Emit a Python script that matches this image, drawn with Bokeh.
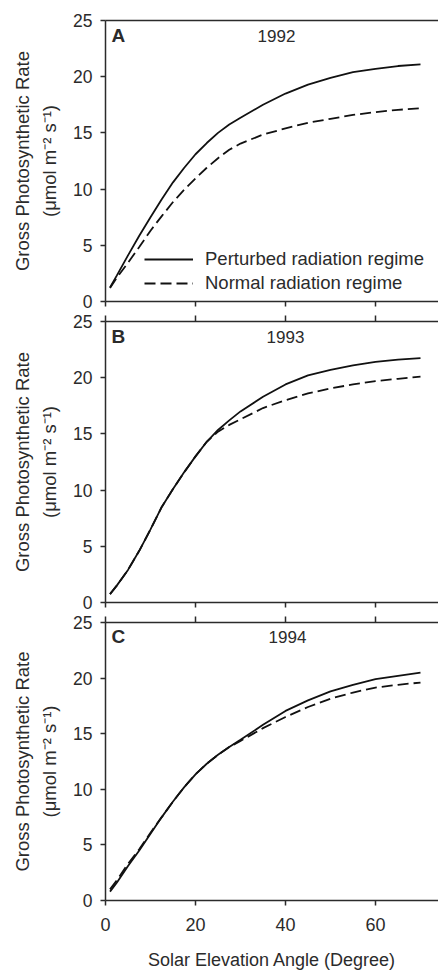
from bokeh.plotting import figure
from bokeh.models import (LinearAxis, Range1d, Label, Legend, LegendItem, FixedTicker,
                          CustomJSTickFormatter)
from bokeh.layouts import column
from bokeh.embed import file_html
from bokeh.resources import INLINE

# ---- data ----
angle = [1, 2.5, 5, 7.5, 10, 12.5, 15, 17.5, 20, 22.5, 25, 27.5, 30,
         35, 40, 45, 50, 55, 60, 65, 70]

a_perturbed = [1.25, 2.3, 4.1, 5.85, 7.5, 9.1, 10.6, 11.9, 13.1, 14.1, 15.0, 15.75, 16.35,
               17.5, 18.5, 19.3, 19.9, 20.4, 20.7, 20.95, 21.1]
a_normal = [1.2, 2.1, 3.45, 4.85, 6.3, 7.6, 8.85, 9.95, 10.95, 11.9, 12.75, 13.5, 14.05,
            14.85, 15.4, 15.9, 16.25, 16.6, 16.85, 17.05, 17.2]

b_perturbed = [0.75, 1.5, 2.9, 4.6, 6.5, 8.5, 10.1, 11.6, 13.0, 14.3, 15.35, 16.2, 17.0,
               18.3, 19.4, 20.2, 20.7, 21.1, 21.4, 21.6, 21.75]
b_normal = [0.75, 1.5, 2.9, 4.6, 6.5, 8.5, 10.1, 11.6, 13.0, 14.3, 15.2, 15.8, 16.3,
            17.3, 18.0, 18.6, 19.05, 19.4, 19.7, 19.9, 20.1]

c_perturbed = [0.8, 1.6, 3.1, 4.5, 6.0, 7.5, 8.9, 10.2, 11.35, 12.3, 13.1, 13.8, 14.45,
               15.8, 17.05, 18.0, 18.8, 19.4, 19.9, 20.2, 20.5]
c_normal = [1.0, 1.8, 3.3, 4.6, 6.1, 7.5, 8.9, 10.2, 11.35, 12.3, 13.1, 13.8, 14.35,
            15.5, 16.5, 17.4, 18.15, 18.7, 19.15, 19.4, 19.6]

x_ticks = [0, 20, 40, 60]
y_ticks = [0, 5, 10, 15, 20, 25]
panel_letters = ["A", "B", "C"]
years = ["1992", "1993", "1994"]
legend_labels = ["Perturbed radiation regime", "Normal radiation regime"]
y_label = "Gross Photosynthetic Rate\n(\u03bcmol m\u207b\u00b2 s\u207b\u00b9)"
x_label = "Solar Elevation Angle (Degree)"

FONT = "Liberation Sans"
INK = "#2b2b2b"
LINE = "#111111"
FRAME_H = 281
W = 438
LEFT = 105


def style_axis(ax, ticks, tick_out, labels, size="18px"):
    ax.ticker = FixedTicker(ticks=ticks)
    ax.axis_line_color = INK
    ax.axis_line_width = 1.5
    ax.major_tick_line_color = INK
    ax.major_tick_line_width = 1.5
    ax.major_tick_out = tick_out
    ax.major_tick_in = 0
    ax.minor_tick_out = 0
    ax.minor_tick_in = 0
    ax.major_label_text_font = FONT
    ax.major_label_text_color = INK
    if labels:
        ax.major_label_text_font_size = size
        ax.major_label_standoff = 9
    else:
        ax.formatter = CustomJSTickFormatter(code="return '';")
        ax.major_label_text_font_size = "0px"
        ax.major_label_standoff = 0


def make_panel(idx, pert, norm, top_b, bot_b, top_ticks, last, year_x, year_y, with_legend):
    p = figure(width=W, height=top_b + FRAME_H + bot_b, output_backend="svg",
               toolbar_location=None, x_range=Range1d(0, 74), y_range=Range1d(0, 25),
               min_border_left=LEFT, min_border_right=0,
               min_border_top=top_b, min_border_bottom=bot_b)
    p.outline_line_color = None
    p.xgrid.visible = False
    p.ygrid.visible = False
    p.background_fill_color = "white"
    p.border_fill_color = "white"

    # left axis
    ya = p.yaxis[0]
    style_axis(ya, y_ticks, 5, True, "17.5px")
    ya.major_label_standoff = 8
    ya.axis_label = y_label
    ya.axis_label_text_font = FONT
    ya.axis_label_text_font_size = "18.5px"
    ya.axis_label_text_font_style = "normal"
    ya.axis_label_text_color = INK
    ya.axis_label_text_line_height = 1.3
    ya.axis_label_standoff = 10

    # bottom axis
    xa = p.xaxis[0]
    style_axis(xa, x_ticks, 5, last, "18px")
    if last:
        xa.major_label_standoff = 12
        xa.axis_label = x_label
        xa.axis_label_text_font = FONT
        xa.axis_label_text_font_size = "18px"
        xa.axis_label_text_font_style = "normal"
        xa.axis_label_text_color = INK
        xa.axis_label_standoff = 16

    # top axis (frame top)
    ta = LinearAxis()
    style_axis(ta, x_ticks, 6 if top_ticks else 0, False)
    p.add_layout(ta, "above")

    r1 = p.line(angle, pert, line_color=LINE, line_width=1.8)
    r2 = p.line(angle, norm, line_color=LINE, line_width=1.8, line_dash="11 5")

    p.add_layout(Label(x=6, y=year_y, x_units="screen", y_units="screen",
                       text=panel_letters[idx], text_font=FONT, text_font_size="19px",
                       text_font_style="bold", text_color=INK,
                       text_align="left", text_baseline="middle"))
    p.add_layout(Label(x=year_x, y=year_y, x_units="screen", y_units="screen",
                       text=years[idx], text_font=FONT, text_font_size="17px",
                       text_color=INK, text_align="center", text_baseline="middle"))

    if with_legend:
        leg = Legend(items=[LegendItem(label=legend_labels[0], renderers=[r1]),
                            LegendItem(label=legend_labels[1], renderers=[r2])],
                     location=(39, 6), orientation="vertical")
        leg.glyph_width = 49
        leg.glyph_height = 24
        leg.label_height = 24
        leg.label_standoff = 12
        leg.spacing = 0
        leg.padding = 0
        leg.margin = 0
        leg.border_line_color = None
        leg.background_fill_alpha = 0
        leg.label_text_font = FONT
        leg.label_text_font_size = "18.5px"
        leg.label_text_color = INK
        p.add_layout(leg, "center")
    return p


pa = make_panel(0, a_perturbed, a_normal, 20, 10, False, False, 171, 266, True)
pb = make_panel(1, b_perturbed, b_normal, 10, 10, True, False, 180, 266, False)
pc = make_panel(2, c_perturbed, c_normal, 10, 69, True, True, 182, 264, False)

layout = column(pa, pb, pc, spacing=0)
open("out.html", "w").write(file_html(layout, INLINE))
